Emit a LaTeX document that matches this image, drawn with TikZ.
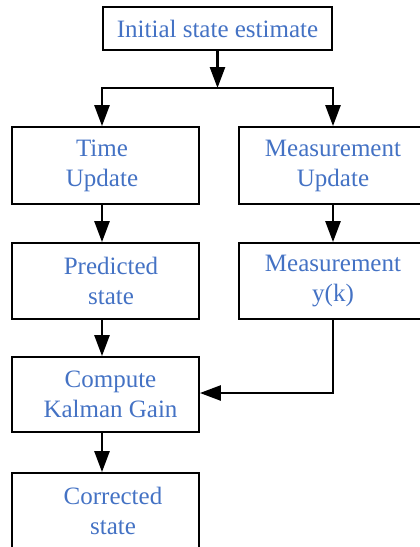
\documentclass[tikz,border=0pt]{standalone}
\usepackage{fontspec}
\setmainfont{Liberation Serif}
\usetikzlibrary{arrows.meta}
\definecolor{txtblue}{HTML}{4472C4}
\begin{document}
\begin{tikzpicture}[x=1pt,y=-1pt,
  box/.style={draw=black,line width=1.8pt,rectangle,align=center,text=txtblue,
    font=\fontsize{25}{30}\selectfont,inner sep=0pt},
  arr/.style={line width=2.6pt,-{Triangle[length=21pt,width=15pt]}}]
\useasboundingbox (0,0) rectangle (420,547);
\node[box,minimum width=229pt,minimum height=43pt] (init) at (217.5,28.5) {Initial state estimate};
\node[box,minimum width=187pt,minimum height=77pt] (time) at (105.5,165.5) {Time\hspace*{7pt}\\Update\hspace*{7pt}};
\node[box,minimum width=188pt,minimum height=77pt] (meas) at (333,165.5) {Measurement\\Update};
\node[box,minimum width=187pt,minimum height=76pt] (pred) at (105.5,281) {\hspace*{11pt}Predicted\\\hspace*{11pt}state};
\node[box,minimum width=188pt,minimum height=76pt] (my) at (333,281) {Measurement\\y(k)};
\node[box,minimum width=187pt,minimum height=75pt] (gain) at (105.5,394.5) {\hspace*{10pt}Compute\\\hspace*{10pt}Kalman Gain};
\node[box,minimum width=187pt,minimum height=76pt] (corr) at (105.5,511) {\hspace*{15pt}Corrected\\\hspace*{15pt}state};
\coordinate (lx) at (102,0);
\coordinate (j) at (217.5,88);
\draw[arr] (init.south) -- (j);
\draw[arr] (j) -| (time.north -| lx);
\draw[arr] (j) -| (meas.north);
\draw[arr] (time.south -| lx) -- (pred.north -| lx);
\draw[arr] (meas.south) -- (my.north);
\draw[arr] (pred.south -| lx) -- (gain.north -| lx);
\draw[arr] (my.south) |- ([yshift=1.5pt]gain.east);
\draw[arr] (gain.south -| lx) -- (corr.north -| lx);
\end{tikzpicture}
\end{document}
